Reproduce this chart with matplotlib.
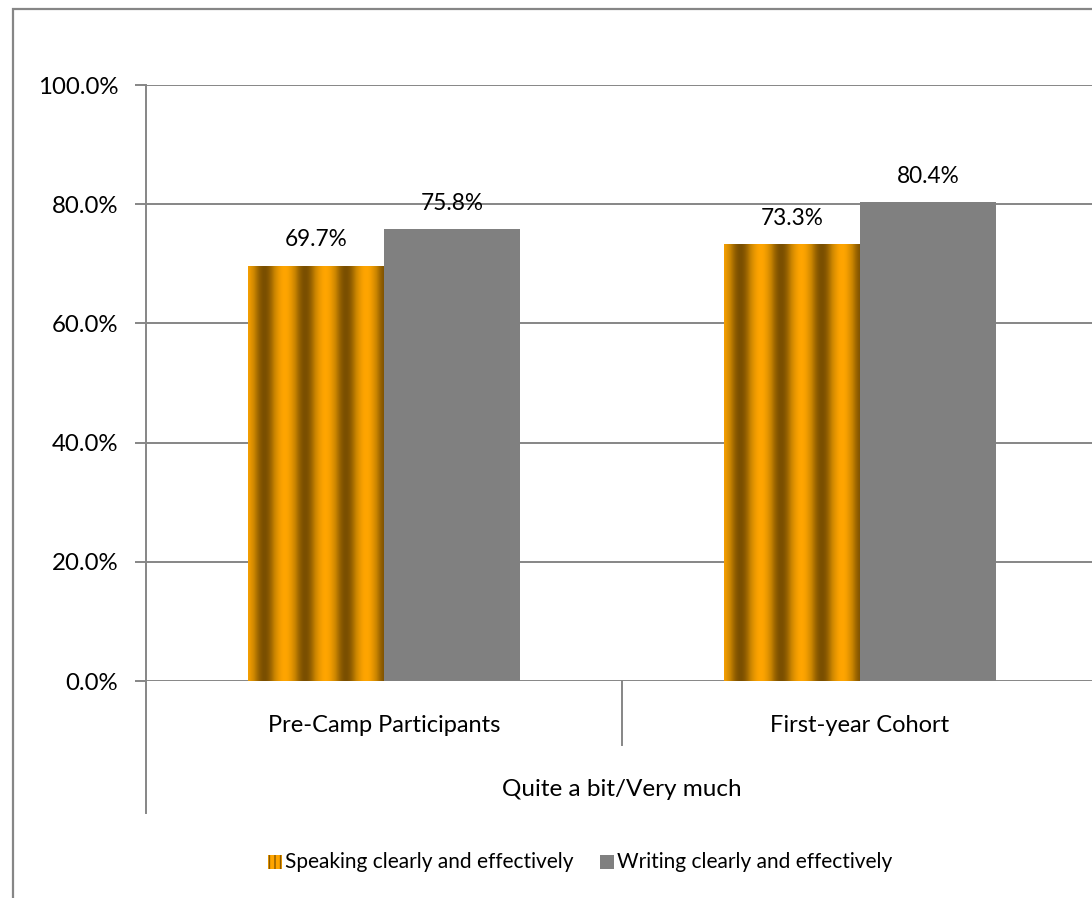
import numpy as np
import matplotlib.pyplot as plt
from matplotlib.colors import LinearSegmentedColormap
from matplotlib.patches import Rectangle
import matplotlib.transforms as mtransforms

plt.rcParams['font.family'] = ['Lato', 'DejaVu Sans']

groups = ['Pre-Camp Participants', 'First-year Cohort']
group_title = 'Quite a bit/Very much'
series = ['Speaking clearly and effectively', 'Writing clearly and effectively']
speaking = [69.7, 73.3]
writing = [75.8, 80.4]
yticks = [0, 20, 40, 60, 80, 100]

grey = '#868686'
stripe_cmap = LinearSegmentedColormap.from_list('stripe', ['#7a4f00', '#c98400', '#ffa500'])

fig = plt.figure(figsize=(10.92, 8.98), dpi=100)
# outer chart frame
fig.add_artist(Rectangle((13 / 1092, -0.1), 1.2, 1.1 - 9 / 898, transform=fig.transFigure,
                         fill=False, edgecolor=grey, linewidth=1.6))

ax = fig.add_axes([146 / 1092, 1 - 681 / 898, 952 / 1092, 596 / 898])
x = np.arange(len(groups))
w = 0.285

bars_s = ax.bar(x - w / 2, speaking, w, color='#ffa500', zorder=2)
bars_w = ax.bar(x + w / 2, writing, w, color='#808080', zorder=2)

# vertical banded gradient on the speaking bars
u = np.linspace(0, 1, 300)
band = 0.5 + 0.5 * np.cos(2 * np.pi * (u * 3.33 + 0.1))
for b in bars_s:
    b.set_facecolor('none')
    im = ax.imshow(band[None, :], cmap=stripe_cmap, aspect='auto', zorder=2,
                   extent=[b.get_x(), b.get_x() + b.get_width(), 0, b.get_height()])
    im.set_clip_path(b)

for bars, vals in [(bars_s, speaking), (bars_w, writing)]:
    for b, v in zip(bars, vals):
        ax.annotate(f'{v:.1f}%', (b.get_x() + b.get_width() / 2, v), xytext=(0, 11),
                    textcoords='offset points', ha='center', va='bottom', fontsize=16.3)

ax.set_xlim(-0.5, 1.5)
ax.set_ylim(0, 100)
ax.set_yticks(yticks)
ax.set_yticklabels([f'{t:.1f}%' for t in yticks], fontsize=17.3)
ax.tick_params(axis='y', length=8, width=1.4, color=grey, pad=12)
ax.set_xticks([])
ax.grid(axis='y', color=grey, linewidth=1.4, zorder=0)
ax.set_axisbelow(True)
for s in ['top', 'right', 'bottom']:
    ax.spines[s].set_visible(False)
ax.spines['left'].set_color(grey)
ax.spines['left'].set_linewidth(1.4)

# multi-level category axis below the plot
trans = mtransforms.blended_transform_factory(ax.transData, fig.transFigure)
ax.plot([-0.5, -0.5], [1 - 681 / 898, 1 - 813 / 898], transform=trans, color=grey,
        linewidth=1.4, clip_on=False)
ax.plot([0.5, 0.5], [1 - 681 / 898, 1 - 745 / 898], transform=trans, color=grey,
        linewidth=1.4, clip_on=False)
for xi, g in zip(x, groups):
    ax.text(xi, 1 - 725 / 898, g, transform=trans, ha='center', va='center', fontsize=17)
ax.text(0.5, 1 - 790 / 898, group_title, transform=trans, ha='center', va='center', fontsize=17.5)

# legend
leg_y = 1 - 862 / 898
fig.add_artist(Rectangle((268 / 1092, leg_y - 7 / 898), 14 / 1092, 14 / 898, transform=fig.transFigure,
                         facecolor='#ffa500', edgecolor='#8a5a00', linewidth=0, hatch='|||'))
fig.text(285 / 1092, leg_y, series[0], ha='left', va='center', fontsize=15)
fig.add_artist(Rectangle((600 / 1092, leg_y - 7 / 898), 14 / 1092, 14 / 898, transform=fig.transFigure,
                         facecolor='#808080', edgecolor='none'))
fig.text(617 / 1092, leg_y, series[1], ha='left', va='center', fontsize=15)

fig.savefig('out.png', dpi=100)
